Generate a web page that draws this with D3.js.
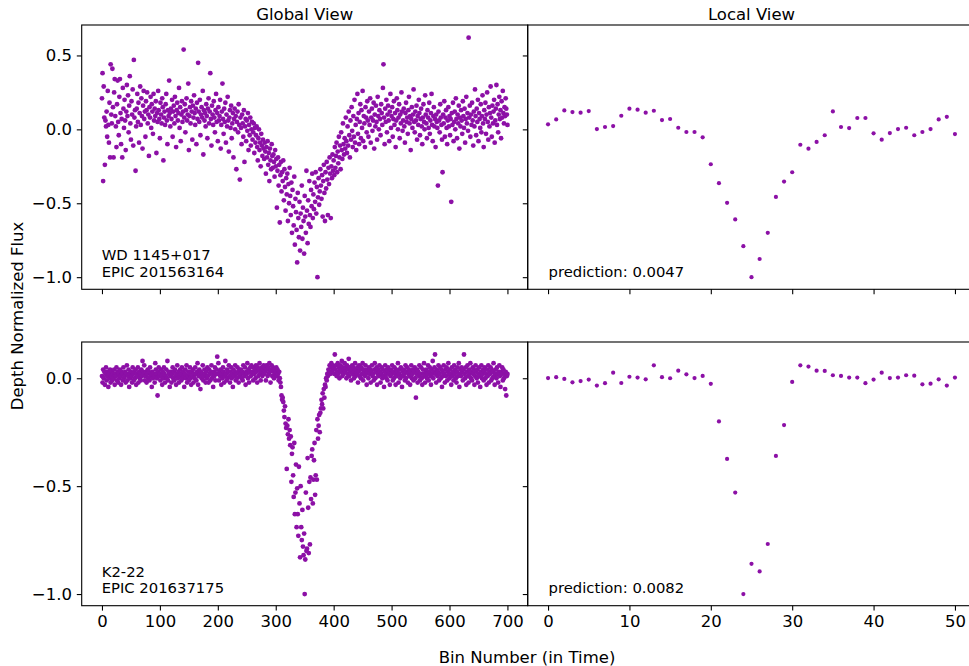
<!DOCTYPE html>
<html><head><meta charset="utf-8">
<script src="https://cdn.jsdelivr.net/npm/d3@7"></script>
<style>body{margin:0;background:#fff}svg{display:block}text{font-family:"DejaVu Sans",sans-serif}</style>
</head><body><svg id="c" width="969" height="666"></svg>
<script>
// ---- data ----
const titles = ["Global View", "Local View"];
const xLabel = "Bin Number (in Time)";
const yLabel = "Depth Normalized Flux";
const starNames = [["WD 1145+017", "EPIC 201563164"], ["K2-22", "EPIC 201637175"]];
const predictions = ["prediction: 0.0047", "prediction: 0.0082"];
const globalXTicks = [0, 100, 200, 300, 400, 500, 600, 700];
const localXTicks = [0, 10, 20, 30, 40, 50];
const yTicksTop = [-1.0, -0.5, 0.0, 0.5];
const yTicksBottom = [-1.0, -0.5, 0.0];

const wdGlobal = [
0.21,0.38,-0.35,0.29,0.08,-0.24,0.06,0.02,0.12,-0.05,0.26,0.03,-0.09,0.18,-0.19,0.44,0.10,0.04,0.41,0.15,
-0.19,0.25,0.34,0.09,0.02,-0.12,0.17,0.33,0.05,-0.04,0.22,0.34,0.11,-0.10,0.07,-0.19,0.28,0.14,0.01,0.20,
0.06,-0.14,0.12,0.30,0.09,0.23,-0.02,0.16,0.36,0.04,-0.07,0.19,0.10,0.27,-0.11,0.47,0.08,0.13,-0.28,0.02,
0.14,0.24,0.05,0.18,-0.09,0.11,0.29,0.03,0.21,0.09,-0.13,0.16,0.26,0.07,0.12,-0.05,0.19,0.13,0.25,0.04,
0.10,-0.18,0.15,0.08,0.22,0.01,0.17,0.12,-0.03,0.24,0.06,0.14,0.09,0.19,-0.16,0.11,0.05,0.26,0.13,0.07,
-0.06,0.18,0.10,0.04,0.21,0.15,-0.21,0.08,0.12,0.03,0.17,0.24,0.06,-0.10,0.13,0.09,0.33,0.11,0.02,0.14,
0.07,0.20,-0.05,0.12,0.16,0.04,0.22,0.09,-0.12,0.13,0.18,0.06,0.11,0.28,0.01,0.15,-0.08,0.10,0.19,0.05,
0.12,0.54,0.08,0.17,-0.02,0.13,0.21,0.06,0.10,0.31,-0.14,0.09,0.15,0.04,0.19,0.12,-0.07,0.16,0.08,0.23,
0.11,0.03,0.14,-0.10,0.18,0.07,0.45,0.12,0.05,0.20,-0.04,0.10,0.15,0.08,0.26,-0.17,0.13,0.06,0.11,0.02,
0.17,0.09,-0.06,0.14,0.21,0.04,0.12,0.38,0.07,-0.11,0.16,0.10,0.03,0.19,0.08,-0.02,0.13,0.24,0.05,0.11,
-0.08,0.15,0.06,0.09,0.20,-0.13,0.03,0.12,0.31,0.07,-0.03,0.14,0.05,0.18,-0.09,0.10,0.02,0.22,0.06,-0.15,
0.08,0.13,0.01,0.16,-0.06,0.04,0.11,-0.19,0.07,0.14,0.00,0.09,-0.27,0.05,0.12,-0.02,0.17,0.03,-0.34,0.08,
0.01,-0.10,0.10,0.04,-0.05,0.13,-0.22,0.02,0.07,-0.08,0.06,-0.01,0.11,-0.14,0.03,-0.04,0.08,-0.11,0.00,0.05,
-0.07,-0.02,0.04,-0.16,0.01,-0.09,-0.04,0.02,-0.12,-0.21,-0.06,0.00,-0.14,-0.09,-0.25,-0.03,-0.11,-0.18,-0.07,-0.13,
-0.20,-0.09,-0.15,-0.30,-0.12,-0.19,-0.08,-0.24,-0.16,-0.35,-0.13,-0.21,-0.27,-0.10,-0.18,-0.26,-0.17,-0.22,-0.32,-0.14,
-0.25,-0.20,-0.53,-0.28,-0.19,-0.38,-0.24,-0.63,-0.31,-0.22,-0.42,-0.29,-0.35,-0.21,-0.48,-0.27,-0.39,-0.55,-0.33,-0.44,
-0.30,-0.62,-0.37,-0.50,-0.26,-0.45,-0.58,-0.36,-0.70,-0.41,-0.52,-0.65,-0.32,-0.78,-0.47,-0.56,-0.68,-0.90,-0.43,-0.60,
-0.73,-0.49,-0.82,-0.57,-0.66,-0.38,-0.74,-0.53,-0.62,-0.84,-0.45,-0.59,-0.70,-0.28,-0.55,-0.77,-0.48,-0.64,-0.35,-0.58,
-0.66,-0.41,-0.52,-0.30,-0.60,-0.44,-0.54,-0.36,-0.49,-0.29,-0.57,-0.39,-1.00,-0.46,-0.33,-0.51,-0.42,-0.27,-0.38,-0.47,
-0.31,-0.59,-0.35,-0.24,-0.43,-0.62,-0.29,-0.40,-0.22,-0.34,-0.58,-0.26,-0.37,-0.19,-0.30,-0.60,-0.25,-0.33,-0.17,-0.28,
-0.21,-0.31,-0.12,-0.26,-0.18,-0.09,-0.29,-0.15,-0.23,-0.05,-0.19,-0.11,-0.27,-0.02,-0.14,-0.20,0.04,-0.10,-0.17,-0.06,
-0.13,0.08,-0.08,-0.16,0.02,-0.11,0.12,-0.04,-0.19,0.06,-0.07,0.15,-0.01,-0.12,0.09,-0.05,0.20,-0.09,0.03,-0.14,
0.07,0.24,-0.03,0.11,-0.10,0.05,0.17,-0.06,0.13,0.01,0.26,-0.08,0.09,0.04,-0.12,0.15,0.08,-0.02,0.19,0.06,
-0.05,0.12,0.03,0.21,-0.09,0.08,0.14,-0.01,0.06,0.18,-0.13,0.10,0.02,0.16,0.05,-0.07,0.22,0.09,0.00,0.13,
0.07,-0.04,0.17,0.11,0.03,0.28,0.44,0.08,-0.10,0.14,0.05,0.20,-0.02,0.10,0.16,0.06,-0.08,0.12,0.24,0.01,
0.09,0.15,-0.05,0.07,0.19,0.03,0.11,-0.12,0.06,0.21,0.13,0.00,0.08,0.17,-0.06,0.10,0.04,0.25,0.12,-0.01,
0.06,0.14,0.02,-0.09,0.11,0.18,0.05,0.08,-0.03,0.13,0.22,0.04,0.09,-0.14,0.07,0.15,0.01,0.10,0.27,0.05,
-0.02,0.12,0.06,0.16,-0.07,0.09,0.03,0.20,0.11,-0.04,0.07,0.14,0.02,-0.10,0.08,0.17,0.05,0.00,0.23,0.10,
0.04,-0.06,0.13,0.08,0.01,0.18,-0.03,0.06,0.11,0.24,0.03,-0.08,0.09,0.15,0.02,0.07,-0.12,0.10,0.05,0.01,
-0.38,0.12,0.06,-0.02,0.17,0.08,0.03,-0.07,-0.29,0.10,0.04,0.19,-0.05,0.08,0.13,0.01,-0.10,0.06,0.15,0.02,
0.09,-0.04,0.07,-0.49,0.11,0.03,0.18,-0.08,0.05,0.12,0.00,0.21,0.07,-0.06,0.10,0.04,0.16,-0.13,0.08,0.02,
0.13,0.06,-0.03,0.19,0.09,0.01,0.14,-0.09,0.07,0.22,0.04,0.11,-0.01,0.62,0.08,0.16,-0.05,0.10,0.03,0.18,
0.06,-0.11,0.12,0.02,0.27,0.09,-0.04,0.14,0.05,0.20,-0.08,0.11,0.07,0.01,0.17,-0.02,0.09,0.23,0.04,-0.12,
0.13,0.07,0.18,-0.03,0.10,0.25,0.05,-0.07,0.15,0.02,0.11,0.29,0.08,-0.05,0.16,0.04,0.12,0.20,-0.09,0.06,
0.14,0.30,0.03,0.17,-0.02,0.10,0.22,0.07,0.13,-0.06,0.19,0.08,0.26,0.11,0.04,0.15,0.09,0.21,0.14,0.10,
0.03];

const wdLocal = [0.034,0.067,0.128,0.117,0.113,0.124,0.002,0.016,0.022,0.092,0.14,0.133,0.113,0.126,0.063,0.07,0.011,-0.018,-0.018,-0.054,
-0.236,-0.364,-0.497,-0.609,-0.79,-1.0,-0.877,-0.70,-0.457,-0.353,-0.29,-0.104,-0.131,-0.085,-0.04,0.121,0.016,0.009,0.077,0.077,
-0.027,-0.07,-0.025,0.002,0.011,-0.04,-0.018,0.002,0.067,0.085,-0.032];

const k2Global = [
0.01,-0.02,0.04,0.00,0.03,-0.03,0.02,0.05,-0.01,0.01,0.03,-0.04,0.02,0.00,0.04,-0.02,0.01,0.03,-0.01,0.02,
0.00,0.04,-0.03,0.02,0.01,0.05,-0.01,0.03,-0.02,0.02,0.00,0.04,0.01,-0.03,0.03,0.02,-0.01,0.05,0.00,0.01,
0.03,-0.02,0.02,0.06,-0.01,0.01,0.04,-0.04,0.02,0.00,0.03,0.01,-0.02,0.05,0.02,-0.01,0.03,0.00,0.04,-0.03,
0.02,0.01,0.05,-0.02,0.03,0.00,0.02,-0.01,0.04,0.01,0.08,0.03,0.02,0.06,-0.01,0.01,0.03,-0.02,0.02,0.04,
0.00,0.03,-0.01,0.05,0.01,0.02,-0.04,0.03,0.00,0.02,0.01,-0.02,0.07,0.04,0.02,0.00,-0.08,0.03,0.05,0.01,
0.02,-0.01,0.04,0.01,-0.03,0.03,0.00,0.05,0.02,-0.02,0.01,0.04,0.00,0.08,-0.01,0.03,0.02,-0.04,0.01,0.03,
-0.02,0.02,0.05,0.00,0.03,-0.01,0.04,0.01,-0.03,0.02,0.06,0.00,0.03,-0.02,0.01,0.04,0.02,-0.01,0.05,0.00,
0.03,0.01,-0.04,0.02,0.04,0.00,0.06,-0.02,0.01,0.03,-0.01,0.02,0.05,0.00,-0.03,0.03,0.01,0.04,-0.02,0.02,
0.00,0.05,0.02,-0.01,0.03,0.07,-0.03,0.01,0.04,0.02,-0.05,0.03,0.00,0.02,0.06,-0.01,0.01,0.04,0.02,-0.02,
0.03,0.00,0.05,0.01,-0.02,0.04,0.02,-0.01,0.03,0.06,0.00,0.02,-0.04,0.03,0.01,0.05,-0.01,0.02,0.04,0.10,
0.02,0.07,-0.01,0.03,0.01,0.04,-0.03,0.02,0.00,0.05,0.03,-0.02,0.01,0.08,0.02,-0.01,0.04,0.00,0.03,0.06,
0.01,-0.02,0.03,0.05,0.00,0.02,-0.04,0.04,0.01,0.03,0.06,-0.01,0.02,0.00,0.05,0.03,-0.02,0.04,0.01,0.02,
0.04,0.00,0.03,-0.01,0.06,0.02,0.01,0.05,-0.03,0.03,0.02,0.07,0.00,0.04,-0.02,0.03,0.05,0.01,0.06,0.02,
0.03,-0.01,0.05,0.02,0.04,0.00,0.06,0.03,-0.02,0.05,0.01,0.04,0.07,0.02,-0.01,0.03,0.05,0.01,0.04,0.06,
0.02,0.05,0.03,-0.01,0.06,0.04,0.01,0.05,0.02,0.07,0.03,-0.02,0.04,0.06,0.01,0.05,0.03,0.00,0.04,0.02,
0.03,0.05,0.01,0.04,0.02,-0.01,0.03,0.00,-0.02,-0.04,-0.08,-0.10,-0.09,-0.11,-0.15,-0.18,-0.13,-0.21,-0.23,-0.42,
-0.22,-0.26,-0.19,-0.28,-0.24,-0.31,-0.27,-0.48,-0.35,-0.32,-0.45,-0.55,-0.30,-0.63,-0.53,-0.40,-0.69,-0.51,-0.63,-0.73,
-0.41,-0.58,-0.83,-0.50,-0.69,-0.75,-0.61,-0.78,-0.82,-0.72,-1.00,-0.84,-0.53,-0.80,-0.79,-0.37,-0.60,-0.81,-0.48,-0.77,
-0.46,-0.56,-0.36,-0.33,-0.58,-0.47,-0.38,-0.30,-0.54,-0.45,-0.24,-0.47,-0.19,-0.28,-0.22,-0.17,-0.25,-0.16,-0.14,-0.10,
-0.12,-0.07,-0.14,-0.05,-0.09,-0.03,-0.04,0.00,-0.01,0.02,0.01,0.04,0.03,0.06,0.02,0.05,0.07,0.03,0.06,0.04,
0.05,0.02,0.11,0.04,0.06,0.01,0.03,0.07,0.02,0.05,0.00,0.04,0.06,0.03,0.08,0.01,0.05,0.02,0.04,0.07,
0.03,0.05,0.00,0.06,0.02,0.04,0.09,0.01,0.05,0.03,-0.01,0.04,0.06,0.02,0.05,0.00,0.03,0.07,0.01,0.04,
0.02,0.05,-0.02,0.03,0.06,0.01,0.04,0.00,0.05,0.02,0.07,-0.01,0.03,0.04,0.01,0.06,0.02,-0.03,0.04,0.03,
0.00,0.05,0.02,0.04,-0.02,0.03,0.06,0.01,0.02,-0.01,0.04,0.07,0.00,0.03,0.05,-0.03,0.02,0.04,0.01,0.06,
0.03,-0.02,0.02,0.05,0.00,0.04,0.01,-0.04,0.03,0.06,0.02,0.00,0.04,-0.01,0.05,0.02,0.03,-0.03,0.01,0.04,
0.02,0.06,-0.01,0.03,0.00,0.05,0.02,-0.03,0.04,0.01,0.03,0.07,-0.02,0.02,0.04,0.00,0.05,0.01,-0.04,0.03,
0.01,0.04,0.02,-0.01,0.06,0.00,0.03,0.05,-0.02,0.02,0.04,0.01,-0.03,0.03,0.06,0.00,0.02,0.04,-0.01,0.03,
0.05,0.00,-0.09,0.02,0.04,-0.02,0.03,0.01,0.06,-0.01,0.02,0.05,0.00,-0.03,0.04,0.02,0.07,0.01,-0.02,0.03,
0.04,0.00,0.02,0.06,-0.01,0.03,0.05,0.01,-0.03,0.04,0.02,0.08,0.00,0.03,0.05,0.11,0.02,-0.02,0.04,0.01,
0.03,0.06,-0.01,0.02,0.05,0.00,0.04,-0.04,0.03,0.01,0.06,0.02,-0.02,0.04,0.01,0.05,-0.01,0.03,0.07,0.02,
0.00,0.04,0.02,-0.03,0.05,0.01,0.03,-0.01,0.06,0.02,0.04,0.00,-0.02,0.03,0.05,0.01,0.07,-0.04,0.02,0.04,
0.01,0.05,0.03,-0.01,0.04,0.11,0.02,0.00,0.05,-0.03,0.03,0.06,0.01,-0.02,0.04,0.02,0.07,0.00,0.03,-0.01,
0.05,0.02,0.04,-0.03,0.01,0.06,0.03,0.00,0.04,-0.02,0.02,0.05,0.01,-0.04,0.03,0.06,0.00,0.02,0.04,-0.01,
0.03,0.05,0.00,0.02,-0.03,0.04,0.01,0.06,-0.02,0.03,0.02,0.05,-0.01,0.04,0.00,0.03,0.07,0.01,-0.03,0.02,
0.04,0.00,0.05,0.02,-0.02,0.03,0.06,0.01,-0.04,0.03,0.02,0.05,-0.01,0.04,0.00,0.02,-0.05,0.03,-0.08,0.01,
0.02];

const k2Local = [0.001,0.005,-0.003,-0.019,-0.013,-0.006,-0.034,-0.023,0.026,-0.022,0.007,0.003,-0.005,0.06,0.005,0.0,0.035,0.018,0.001,0.011,
-0.026,-0.2,-0.374,-0.53,-1.0,-0.86,-0.895,-0.768,-0.36,-0.217,-0.017,0.06,0.054,0.035,0.034,0.014,0.011,0.003,0.003,-0.023,
-0.006,0.026,0.001,0.003,0.014,0.012,-0.028,-0.025,-0.005,-0.034,0.003];

// ---- layout ----
const svg = d3.select("#c");
const FS_TICK = 16.5, FS_NOTE = 14.8, FS_TITLE = 16.5;
const color = "#8c10a6";
const cols = [[81.7, 527.7], [527.7, 975.3]];
const rows = [[25, 289.3], [342, 605.7]];
const xDomains = [[-35, 735], [-2.5, 52.5]];
const yDomains = [[-1.082, 0.706], [-1.054, 0.168]];
const series = [[wdGlobal, wdLocal], [k2Global, k2Local]];
const yTicks = [yTicksTop, yTicksBottom];
const xTicks = [globalXTicks, localXTicks];
const radius = [2.4, 2.1];

for (let r = 0; r < 2; r++) {
  for (let c = 0; c < 2; c++) {
    const x = d3.scaleLinear().domain(xDomains[c]).range(cols[c]);
    const y = d3.scaleLinear().domain(yDomains[r]).range([rows[r][1], rows[r][0]]);
    const g = svg.append("g");
    // points
    g.append("g").selectAll("circle").data(series[r][c]).join("circle")
      .attr("cx", (d, i) => x(i)).attr("cy", d => y(d)).attr("r", radius[c]).attr("fill", color);
    // y axis
    const ya = d3.axisLeft(y).tickValues(yTicks[r]).tickSize(4.9).tickPadding(4.9)
      .tickFormat(c === 0 ? d3.format(".1f") : () => "");
    const yg = g.append("g").attr("transform", `translate(${cols[c][0]},0)`).call(ya);
    // x axis
    const xa = d3.axisBottom(x).tickValues(xTicks[c]).tickSize(4.9).tickPadding(4.9)
      .tickFormat(r === 1 ? d3.format("d") : () => "");
    const xg = g.append("g").attr("transform", `translate(0,${rows[r][1]})`).call(xa);
    [yg, xg].forEach(a => {
      a.select(".domain").remove();
      a.selectAll(".tick line").attr("stroke", "#000").attr("stroke-width", 1.1);
      a.selectAll(".tick text").attr("font-size", FS_TICK).attr("fill", "#000")
        .attr("font-family", "DejaVu Sans");
    });
    // frame
    g.append("rect").attr("x", cols[c][0]).attr("y", rows[r][0])
      .attr("width", cols[c][1] - cols[c][0]).attr("height", rows[r][1] - rows[r][0])
      .attr("fill", "none").attr("stroke", "#000").attr("stroke-width", 1.1);
    // annotations
    if (c === 0) {
      g.append("text").attr("x", 101.7).attr("y", rows[r][1] - 29).attr("font-size", FS_NOTE).text(starNames[r][0]);
      g.append("text").attr("x", 101.7).attr("y", rows[r][1] - 12.3).attr("font-size", FS_NOTE).text(starNames[r][1]);
    } else {
      g.append("text").attr("x", 548.5).attr("y", rows[r][1] - 12.3).attr("font-size", FS_NOTE).text(predictions[r]);
    }
    if (r === 0) {
      svg.append("text").attr("x", (cols[c][0] + cols[c][1]) / 2).attr("y", 19.5)
        .attr("text-anchor", "middle").attr("font-size", FS_TITLE).text(titles[c]);
    }
  }
}
svg.append("text").attr("x", 527).attr("y", 663).attr("text-anchor", "middle")
  .attr("font-size", FS_TITLE).text(xLabel);
svg.append("text").attr("transform", "translate(22.5,316) rotate(-90)").attr("text-anchor", "middle")
  .attr("font-size", FS_TITLE).text(yLabel);
</script></body></html>
